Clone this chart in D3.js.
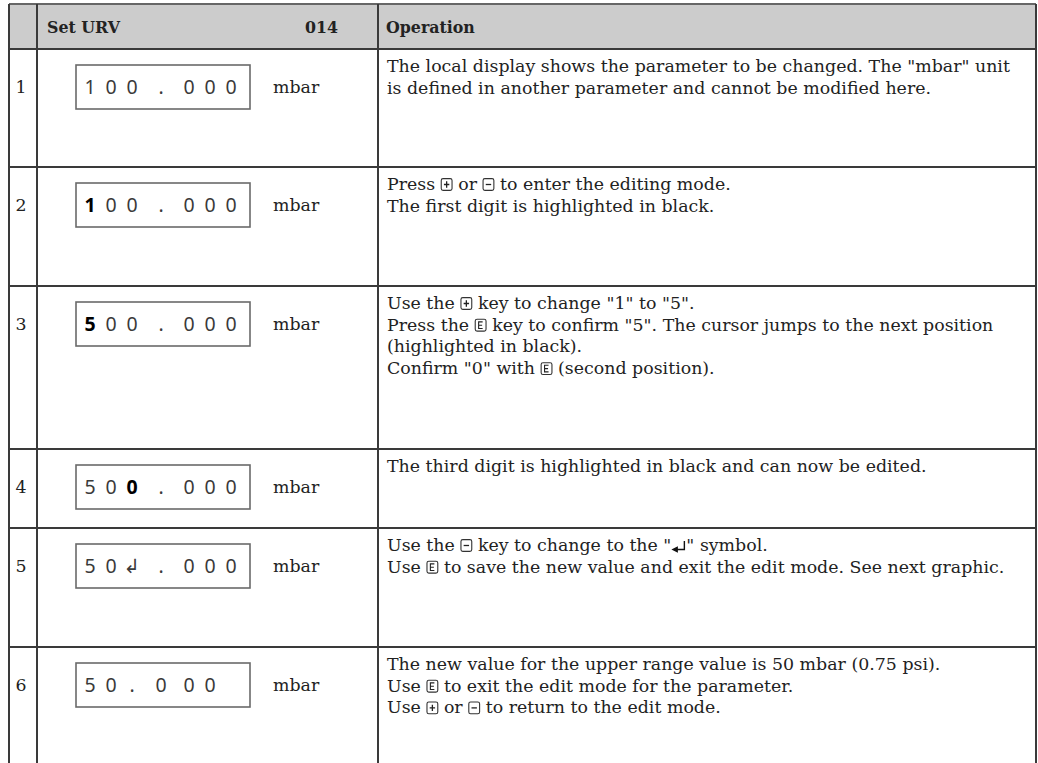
<!DOCTYPE html>
<html><head><meta charset="utf-8">
<script src="https://cdn.jsdelivr.net/npm/d3@7/dist/d3.min.js"></script>
<style>
html,body{margin:0;padding:0;background:#fff;}
svg text{white-space:pre;}
</style></head>
<body><svg id="c" width="1038" height="763"></svg>
<script>
// ---------- data ----------
const headerLabels = ["Set URV", "014", "Operation"];
const stepNumbers = ["1", "2", "3", "4", "5", "6"];
const displayValues = ["100.000", "100.000", "500.000", "500.000", "50\u21B2.000", "50.000"];
const highlightIndex = [-1, 0, 0, 2, -1, -1];
const unitLabels = ["mbar", "mbar", "mbar", "mbar", "mbar", "mbar"];
// {+} plus key, {-} minus key, {E} enter key, {ENT} enter symbol
const operationLines = [
  ["The local display shows the parameter to be changed. The \"mbar\" unit",
   "is defined in another parameter and cannot be modified here."],
  ["Press {+} or {-} to enter the editing mode.",
   "The first digit is highlighted in black."],
  ["Use the {+} key to change \"1\" to \"5\".",
   "Press the {E} key to confirm \"5\". The cursor jumps to the next position",
   "(highlighted in black).",
   "Confirm \"0\" with {E} (second position)."],
  ["The third digit is highlighted in black and can now be edited."],
  ["Use the {-} key to change to the \"{ENT}\" symbol.",
   "Use {E} to save the new value and exit the edit mode. See next graphic."],
  ["The new value for the upper range value is 50 mbar (0.75 psi).",
   "Use {E} to exit the edit mode for the parameter.",
   "Use {+} or {-} to return to the edit mode."]
];

// ---------- layout ----------
const W = 1038, H = 763;
const colX = [9, 37, 378, 1036];
const rowEdges = [4, 49, 167, 286, 449, 528, 647, 800];
const serif = "'DejaVu Serif', serif";
const sans = "'Noto Sans', 'DejaVu Sans', sans-serif";
const lineColor = "#3a3a3a";
const textColor = "#222";

const svg = d3.select("#c");
const yRow = d3.scaleOrdinal().domain(d3.range(-1, stepNumbers.length)).range(rowEdges);

// font size: taller glyphs, compressed horizontally so that the long first line spans 623px
const fs = 17.5;
function measure(str, size, weight) {
  const t = svg.append("text").attr("font-family", serif).attr("font-size", size)
    .attr("font-weight", weight || "normal").text(str);
  const w = t.node().getComputedTextLength();
  t.remove();
  return w;
}
const sx = 623 / measure(operationLines[0][0], fs);
const hfs = 17;
const hsx = 73 / measure(headerLabels[0], hfs, "bold");
const lineH = 21.7;

// helper: a horizontally compressed serif text group anchored at (x, y)
function sText(x, y, str, opts = {}) {
  const s = opts.sx || sx;
  const gg = svg.append("g").attr("transform", `translate(${x},${y}) scale(${s},1)`);
  const t = gg.append("text").attr("x", 0).attr("y", 0).attr("font-family", serif)
    .attr("font-size", opts.size || fs).attr("font-weight", opts.weight || "normal")
    .attr("text-anchor", opts.anchor || "start").attr("fill", textColor).text(str);
  return t.node().getComputedTextLength() * s;
}

// header background
svg.append("rect").attr("x", colX[0]).attr("y", rowEdges[0])
  .attr("width", colX[3] - colX[0]).attr("height", rowEdges[1] - rowEdges[0])
  .attr("fill", "#cccccc");

// header text
const hy = (rowEdges[0] + rowEdges[1]) / 2 + 6;
sText(47, hy, headerLabels[0], { size: hfs, weight: "bold", sx: hsx });
sText(338, hy, headerLabels[1], { size: hfs, weight: "bold", sx: hsx, anchor: "end" });
sText(386, hy, headerLabels[2], { size: hfs, weight: "bold", sx: hsx });

// grid lines
const g = svg.append("g").attr("stroke", lineColor).attr("stroke-width", 1.2).attr("shape-rendering", "crispEdges");
rowEdges.slice(0, -1).forEach((y, i) => {
  g.append("line").attr("x1", colX[0]).attr("x2", colX[3]).attr("y1", y).attr("y2", y)
    .attr("stroke", i === 0 ? "#666" : lineColor).attr("stroke-width", i === 0 ? 1.6 : 1.2);
});
colX.forEach(x => {
  g.append("line").attr("x1", x).attr("x2", x).attr("y1", rowEdges[0]).attr("y2", H);
});

// display slot positions relative to box left
const slotX = d3.scaleOrdinal().domain(d3.range(7)).range([14, 35, 56, 85, 113, 134, 155]);
const boxX = 76, boxW = 174, boxH = 44;

function drawIcon(type, x, baseline) {
  const s = 13, w = 12;
  const gg = svg.append("g").attr("transform", `translate(${x},${baseline - s + 1})`);
  if (type === "ENT") {
    gg.append("path").attr("d", `M13,${s - 11} L13,${s - 2.5} L5,${s - 2.5}`)
      .attr("fill", "none").attr("stroke", "#111").attr("stroke-width", 1.4);
    gg.append("path").attr("d", `M0,${s - 2.5} L6.5,${s - 5.8} L6.5,${s + 0.8} Z`).attr("fill", "#111");
    return 15;
  }
  gg.append("rect").attr("x", 0.6).attr("y", 0.6).attr("width", w - 1.2).attr("height", s - 1.2)
    .attr("rx", 1.8).attr("fill", "none").attr("stroke", "#333").attr("stroke-width", 1.1);
  if (type === "+") {
    gg.append("path").attr("d", `M${w / 2},3.3 V${s - 3.3} M3.3,${s / 2} H${w - 3.3}`).attr("stroke", "#222").attr("stroke-width", 1.3);
  } else if (type === "-") {
    gg.append("path").attr("d", `M3.3,${s / 2} H${w - 3.3}`).attr("stroke", "#222").attr("stroke-width", 1.3);
  } else if (type === "E") {
    gg.append("path").attr("d", `M8,3.2 H4 V${s - 3.2} H8 M4,${s / 2} H7.5`).attr("fill", "none").attr("stroke", "#222").attr("stroke-width", 1.1);
  }
  return w;
}

stepNumbers.forEach((num, i) => {
  const top = yRow(i), cy = top + 16 + boxH / 2;
  // step number
  sText(21, cy + 6, num, { anchor: "middle" });
  // display box
  svg.append("rect").attr("x", boxX).attr("y", top + 16).attr("width", boxW).attr("height", boxH)
    .attr("fill", "none").attr("stroke", "#6a6a6a").attr("stroke-width", 1.6);
  Array.from(displayValues[i]).forEach((ch, k) => {
    const hi = k === highlightIndex[i];
    svg.append("text").attr("x", boxX + slotX(k)).attr("y", cy + 7).attr("text-anchor", "middle")
      .attr("font-family", sans).attr("font-size", 19.5)
      .attr("font-weight", hi ? "bold" : "normal")
      .attr("fill", hi ? "#000" : "#3a3a3a").text(ch);
  });
  sText(273, cy + 6, unitLabels[i]);

  // operation text
  operationLines[i].forEach((line, j) => {
    const baseline = top + 23 + j * lineH;
    let x = 387;
    line.split(/(\{[^}]+\})/).filter(p => p.length).forEach(p => {
      const m = p.match(/^\{(.+)\}$/);
      x += m ? drawIcon(m[1], x, baseline) : sText(x, baseline, p);
    });
  });
});
</script></body></html>
